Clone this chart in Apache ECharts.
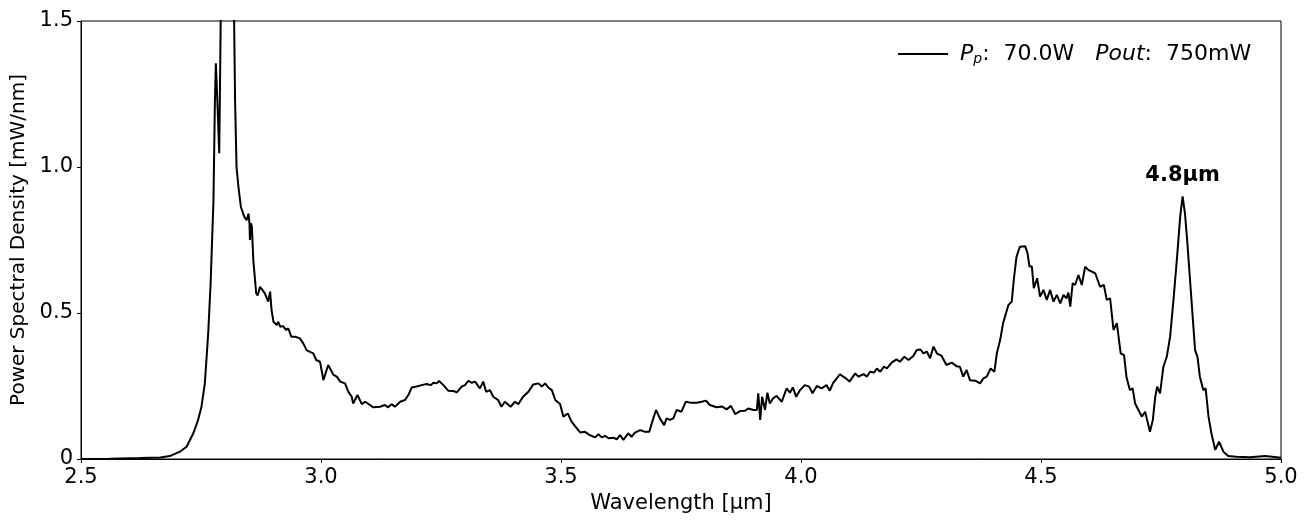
<!DOCTYPE html>
<html>
<head>
<meta charset="utf-8">
<script src="https://cdn.jsdelivr.net/npm/echarts@6/dist/echarts.min.js"></script>
<style>
  html, body { margin: 0; padding: 0; background: #fff; }
  #chart { width: 1316px; height: 520px; }
</style>
</head>
<body>
<div id="chart"></div>
<script>
// wavelength [µm] and power spectral density [mW/nm]
const wavelength = [
  2.500, 2.560, 2.623, 2.665, 2.685, 2.706, 2.720, 2.734, 2.744, 2.751,
  2.758, 2.765, 2.770, 2.776, 2.779, 2.781, 2.784, 2.788, 2.790, 2.791,
  2.794, 2.804, 2.815, 2.819, 2.821, 2.824, 2.828, 2.833, 2.840, 2.845,
  2.849, 2.851, 2.852, 2.854, 2.856, 2.859, 2.865, 2.868, 2.873, 2.883,
  2.890, 2.894, 2.897, 2.901, 2.908, 2.911, 2.915, 2.921, 2.927, 2.932,
  2.938, 2.946, 2.956, 2.963, 2.970, 2.977, 2.984, 2.990, 2.998, 3.005,
  3.015, 3.026, 3.033, 3.040, 3.050, 3.057, 3.064, 3.067, 3.076, 3.085,
  3.092, 3.102, 3.109, 3.123, 3.133, 3.140, 3.147, 3.154, 3.165, 3.175,
  3.182, 3.189, 3.199, 3.210, 3.220, 3.229, 3.234, 3.241, 3.246, 3.255,
  3.265, 3.276, 3.283, 3.293, 3.300, 3.307, 3.314, 3.321, 3.331, 3.338,
  3.344, 3.352, 3.359, 3.369, 3.376, 3.383, 3.395, 3.404, 3.411, 3.421,
  3.432, 3.442, 3.453, 3.460, 3.467, 3.474, 3.481, 3.488, 3.498, 3.505,
  3.514, 3.522, 3.533, 3.540, 3.550, 3.560, 3.571, 3.578, 3.585, 3.592,
  3.599, 3.609, 3.616, 3.623, 3.630, 3.640, 3.647, 3.654, 3.665, 3.675,
  3.684, 3.689, 3.698, 3.706, 3.715, 3.720, 3.727, 3.734, 3.741, 3.751,
  3.760, 3.769, 3.783, 3.793, 3.802, 3.810, 3.824, 3.835, 3.845, 3.854,
  3.863, 3.873, 3.883, 3.890, 3.901, 3.908, 3.911, 3.915, 3.919, 3.925,
  3.930, 3.935, 3.942, 3.949, 3.960, 3.970, 3.977, 3.983, 3.990, 3.998,
  4.008, 4.017, 4.024, 4.033, 4.043, 4.053, 4.060, 4.067, 4.081, 4.092,
  4.101, 4.113, 4.120, 4.130, 4.137, 4.144, 4.152, 4.158, 4.165, 4.173,
  4.179, 4.189, 4.199, 4.206, 4.215, 4.224, 4.234, 4.241, 4.249, 4.255,
  4.262, 4.269, 4.276, 4.283, 4.293, 4.303, 4.314, 4.324, 4.331, 4.338,
  4.345, 4.352, 4.363, 4.373, 4.380, 4.387, 4.395, 4.403, 4.408, 4.415,
  4.421, 4.432, 4.439, 4.444, 4.449, 4.456, 4.467, 4.472, 4.476, 4.481,
  4.485, 4.492, 4.498, 4.505, 4.512, 4.519, 4.526, 4.533, 4.540, 4.547,
  4.553, 4.557, 4.561, 4.566, 4.571, 4.578, 4.585, 4.592, 4.599, 4.606,
  4.613, 4.617, 4.623, 4.631, 4.637, 4.644, 4.651, 4.658, 4.666, 4.673,
  4.678, 4.685, 4.691, 4.696, 4.703, 4.710, 4.717, 4.721, 4.727, 4.733,
  4.738, 4.742, 4.748, 4.755, 4.762, 4.769, 4.776, 4.783, 4.790, 4.795,
  4.800, 4.805, 4.810, 4.816, 4.821, 4.826, 4.831, 4.838, 4.843, 4.849,
  4.855, 4.863, 4.871, 4.880, 4.890, 4.907, 4.935, 4.967, 4.970, 5.000
];
const psd = [
  0.000, 0.001, 0.003, 0.005, 0.010, 0.025, 0.042, 0.088, 0.134, 0.179,
  0.259, 0.430, 0.600, 0.887, 1.229, 1.355, 1.230, 1.047, 1.340, 1.500,
  1.900, 2.300, 1.900, 1.500, 1.229, 1.000, 0.932, 0.864, 0.830, 0.818,
  0.840, 0.807, 0.750, 0.807, 0.795, 0.680, 0.567, 0.560, 0.590, 0.567,
  0.539, 0.573, 0.510, 0.470, 0.459, 0.470, 0.453, 0.455, 0.442, 0.447,
  0.419, 0.419, 0.413, 0.396, 0.373, 0.367, 0.362, 0.339, 0.333, 0.270,
  0.322, 0.288, 0.282, 0.265, 0.259, 0.230, 0.213, 0.190, 0.219, 0.188,
  0.196, 0.185, 0.177, 0.179, 0.185, 0.177, 0.188, 0.179, 0.196, 0.202,
  0.219, 0.245, 0.248, 0.253, 0.257, 0.253, 0.261, 0.259, 0.267, 0.253,
  0.234, 0.233, 0.228, 0.248, 0.253, 0.268, 0.261, 0.265, 0.242, 0.265,
  0.230, 0.236, 0.213, 0.202, 0.179, 0.196, 0.179, 0.196, 0.188, 0.213,
  0.230, 0.255, 0.259, 0.248, 0.259, 0.244, 0.236, 0.202, 0.188, 0.145,
  0.156, 0.128, 0.105, 0.091, 0.093, 0.082, 0.074, 0.085, 0.074, 0.079,
  0.071, 0.073, 0.067, 0.082, 0.065, 0.088, 0.076, 0.090, 0.099, 0.093,
  0.093, 0.122, 0.168, 0.139, 0.116, 0.139, 0.134, 0.139, 0.168, 0.162,
  0.196, 0.193, 0.193, 0.196, 0.200, 0.185, 0.177, 0.180, 0.170, 0.182,
  0.154, 0.164, 0.165, 0.173, 0.168, 0.168, 0.225, 0.134, 0.213, 0.168,
  0.227, 0.190, 0.208, 0.216, 0.196, 0.242, 0.227, 0.245, 0.213, 0.236,
  0.253, 0.248, 0.225, 0.250, 0.242, 0.253, 0.234, 0.261, 0.290, 0.278,
  0.265, 0.293, 0.282, 0.291, 0.282, 0.299, 0.296, 0.310, 0.299, 0.316,
  0.310, 0.330, 0.341, 0.333, 0.350, 0.339, 0.353, 0.373, 0.375, 0.362,
  0.368, 0.345, 0.385, 0.362, 0.353, 0.322, 0.330, 0.318, 0.316, 0.282,
  0.305, 0.270, 0.268, 0.259, 0.276, 0.282, 0.310, 0.299, 0.362, 0.408,
  0.465, 0.527, 0.539, 0.624, 0.693, 0.727, 0.729, 0.704, 0.659, 0.659,
  0.585, 0.619, 0.556, 0.579, 0.545, 0.579, 0.539, 0.562, 0.533, 0.562,
  0.550, 0.570, 0.522, 0.602, 0.596, 0.630, 0.596, 0.659, 0.647, 0.642,
  0.636, 0.636, 0.590, 0.596, 0.545, 0.550, 0.442, 0.465, 0.362, 0.356,
  0.282, 0.236, 0.242, 0.190, 0.168, 0.145, 0.162, 0.134, 0.093, 0.134,
  0.213, 0.248, 0.225, 0.316, 0.350, 0.419, 0.545, 0.682, 0.830, 0.899,
  0.840, 0.739, 0.624, 0.487, 0.373, 0.350, 0.282, 0.236, 0.242, 0.145,
  0.088, 0.031, 0.059, 0.025, 0.010, 0.008, 0.006, 0.010, 0.005, 0.004
];
const xTicks = [2.5, 3.0, 3.5, 4.0, 4.5, 5.0];
const yTicks = [0, 0.5, 1.0, 1.5];
const peakLabel = { text: "4.8µm", at: [4.795, 0.899] };
const seriesName = "Pp: 70.0W  Pout: 750mW";

const font = "DejaVu Sans";
const chart = echarts.init(document.getElementById("chart"), null, { renderer: "canvas" });

const option = {
  animation: false,
  backgroundColor: "#fff",
  grid: {
    left: 81, right: 35, top: 21, bottom: 61,
    show: true, borderColor: "#000", borderWidth: 1,
  },
  legend: {
    data: [seriesName],
    left: 893, top: 38,
    icon: "rect", itemWidth: 50, itemHeight: 2, itemGap: 10,
    formatter: () => " {i|P}{s|p}{n|:  70.0W   }{i|Pout}{n|:  750mW}",
    textStyle: {
      fontFamily: font, fontSize: 22, color: "#000",
      rich: {
        i: { fontFamily: font, fontSize: 22, fontStyle: "italic", color: "#000" },
        s: { fontFamily: font, fontSize: 14, fontStyle: "italic", color: "#000", verticalAlign: "bottom", padding: [11, 0, 0, 0] },
        n: { fontFamily: font, fontSize: 22, color: "#000" },
      },
    },
  },
  xAxis: {
    type: "value",
    min: xTicks[0], max: xTicks[xTicks.length - 1], interval: 0.5,
    name: "Wavelength [µm]",
    nameLocation: "middle", nameGap: 31,
    nameTextStyle: { fontFamily: font, fontSize: 21, color: "#000" },
    axisLine: { lineStyle: { color: "#000", width: 1 } },
    axisTick: { length: 4, lineStyle: { color: "#000" } },
    axisLabel: { fontFamily: font, fontSize: 21, color: "#000", margin: 8, formatter: (v) => v.toFixed(1) },
    splitLine: { show: false },
  },
  yAxis: {
    type: "value",
    min: yTicks[0], max: yTicks[yTicks.length - 1], interval: 0.5,
    name: "Power Spectral Density [mW/nm]",
    nameLocation: "middle", nameGap: 42, nameRotate: 90,
    nameTextStyle: { fontFamily: font, fontSize: 20, color: "#000" },
    axisLine: { show: true, lineStyle: { color: "#000", width: 1 } },
    axisTick: { show: true, length: 4, lineStyle: { color: "#000" } },
    axisLabel: { fontFamily: font, fontSize: 21, color: "#000", margin: 8, formatter: (v) => (v === 0 ? "0" : v.toFixed(1)) },
    splitLine: { show: false },
  },
  series: [
    {
      name: seriesName,
      type: "line",
      data: wavelength.map((w, i) => [w, psd[i]]),
      symbol: "none",
      clip: true,
      lineStyle: { color: "#000", width: 2 },
      itemStyle: { color: "#000" },
      markPoint: {
        symbol: "circle", symbolSize: 0,
        data: [{ coord: peakLabel.at }],
        label: {
          show: true, position: "top", distance: 10,
          formatter: peakLabel.text,
          fontFamily: font, fontSize: 21, fontWeight: "bold", color: "#000",
        },
      },
    },
  ],
};

chart.setOption(option);
</script>
</body>
</html>
